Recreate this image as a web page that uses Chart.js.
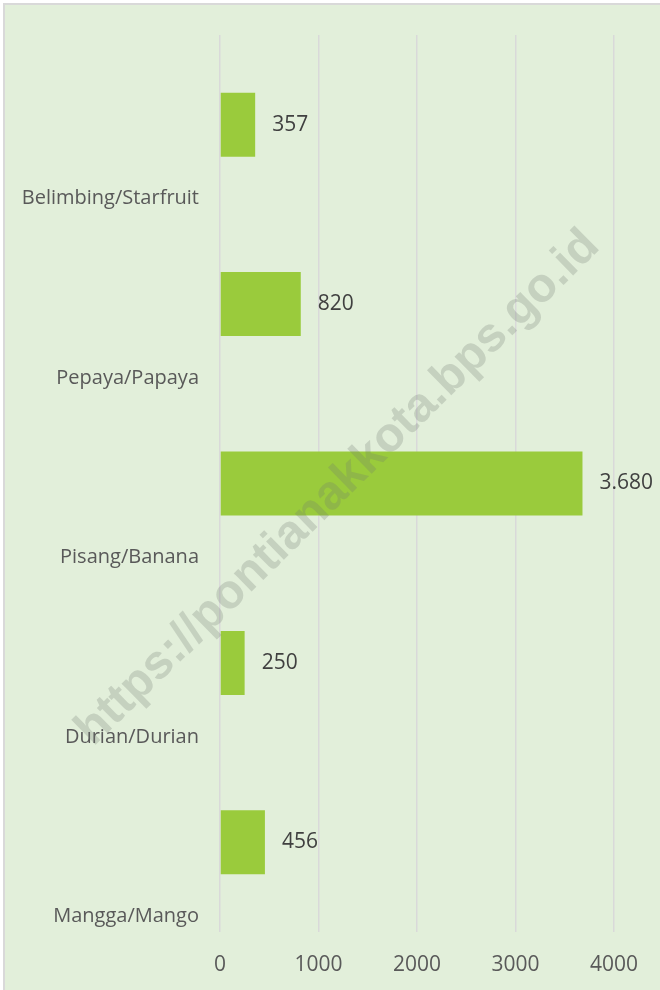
<!DOCTYPE html>
<html>
<head>
<meta charset="utf-8">
<script src="https://cdn.jsdelivr.net/npm/chart.js@4"></script>
<style>
  body { margin: 0; background: #ffffff; }
  #frame {
    position: absolute; left: 3px; top: 3px; width: 700px; height: 1000px;
    border-left: 2px solid #d9d9d9; border-top: 2px solid #d9d9d9;
    background: #e2efda;
  }
  #box { position: absolute; left: 0; top: 0; width: 660px; height: 990px; }
</style>
</head>
<body>
<div id="frame"></div>
<div id="box"><canvas id="myChart"></canvas></div>
<script>
  const labels = [
    'Belimbing/Starfruit', 'Pepaya/Papaya', 'Pisang/Banana', 'Durian/Durian', 'Mangga/Mango'
  ];
  const values = [357, 820, 3680, 250, 456];
  const xTicks = [0, 1000, 2000, 3000, 4000];

  const FONT = "'Open Sans', 'Noto Sans', sans-serif";

  // 3680 -> "3.680"
  function fmt(v) {
    return String(v).replace(/\B(?=(\d{3})+(?!\d))/g, '.');
  }

  const valueLabels = {
    id: 'valueLabels',
    afterDatasetsDraw(chart) {
      const ctx = chart.ctx;
      const meta = chart.getDatasetMeta(0);
      ctx.save();
      ctx.font = '21px ' + FONT;
      ctx.fillStyle = '#404040';
      ctx.textAlign = 'left';
      ctx.textBaseline = 'middle';
      meta.data.forEach((bar, i) => {
        ctx.fillText(fmt(values[i]), bar.x + 17, bar.y);
      });
      ctx.restore();
    }
  };

  const watermark = {
    id: 'watermark',
    afterDraw(chart) {
      const ctx = chart.ctx;
      ctx.save();
      ctx.translate(338, 488);
      ctx.rotate(-44.5 * Math.PI / 180);
      ctx.font = "bold 48px 'Liberation Sans', Arial, sans-serif";
      ctx.fillStyle = 'rgba(110, 120, 110, 0.25)';
      ctx.textAlign = 'center';
      ctx.textBaseline = 'middle';
      ctx.fillText('https://pontianakkota.bps.go.id', 0, 0);
      ctx.restore();
    }
  };

  const data = {
    labels: labels,
    datasets: [{
      data: values,
      backgroundColor: '#9acb3c',
      borderWidth: 0,
      barPercentage: 0.357,
      categoryPercentage: 1
    }]
  };

  const config = {
    type: 'bar',
    data: data,
    options: {
      indexAxis: 'y',
      responsive: true,
      maintainAspectRatio: false,
      animation: false,
      layout: { padding: { top: 35, right: 46, left: 0, bottom: 0 } },
      plugins: { legend: { display: false }, tooltip: { enabled: false } },
      scales: {
        x: {
          min: 0, max: 4000,
          afterBuildTicks(scale) { scale.ticks = xTicks.map(v => ({ value: v })); },
          afterFit(scale) { scale.height = 58; },
          grid: { color: '#d9d9d9', lineWidth: 1.5, drawTicks: false },
          border: { display: false },
          ticks: {
            color: '#595959', font: { family: FONT, size: 21 }, padding: 20,
            callback: v => String(v)
          }
        },
        y: {
          afterFit(scale) { scale.width = 220; },
          grid: { display: false },
          border: { display: false },
          ticks: { color: '#595959', font: { family: FONT, size: 20 }, padding: 13, labelOffset: 74 }
        }
      }
    },
    plugins: [valueLabels, watermark]
  };

  const myChart = new Chart(document.getElementById('myChart'), config);
</script>
</body>
</html>
